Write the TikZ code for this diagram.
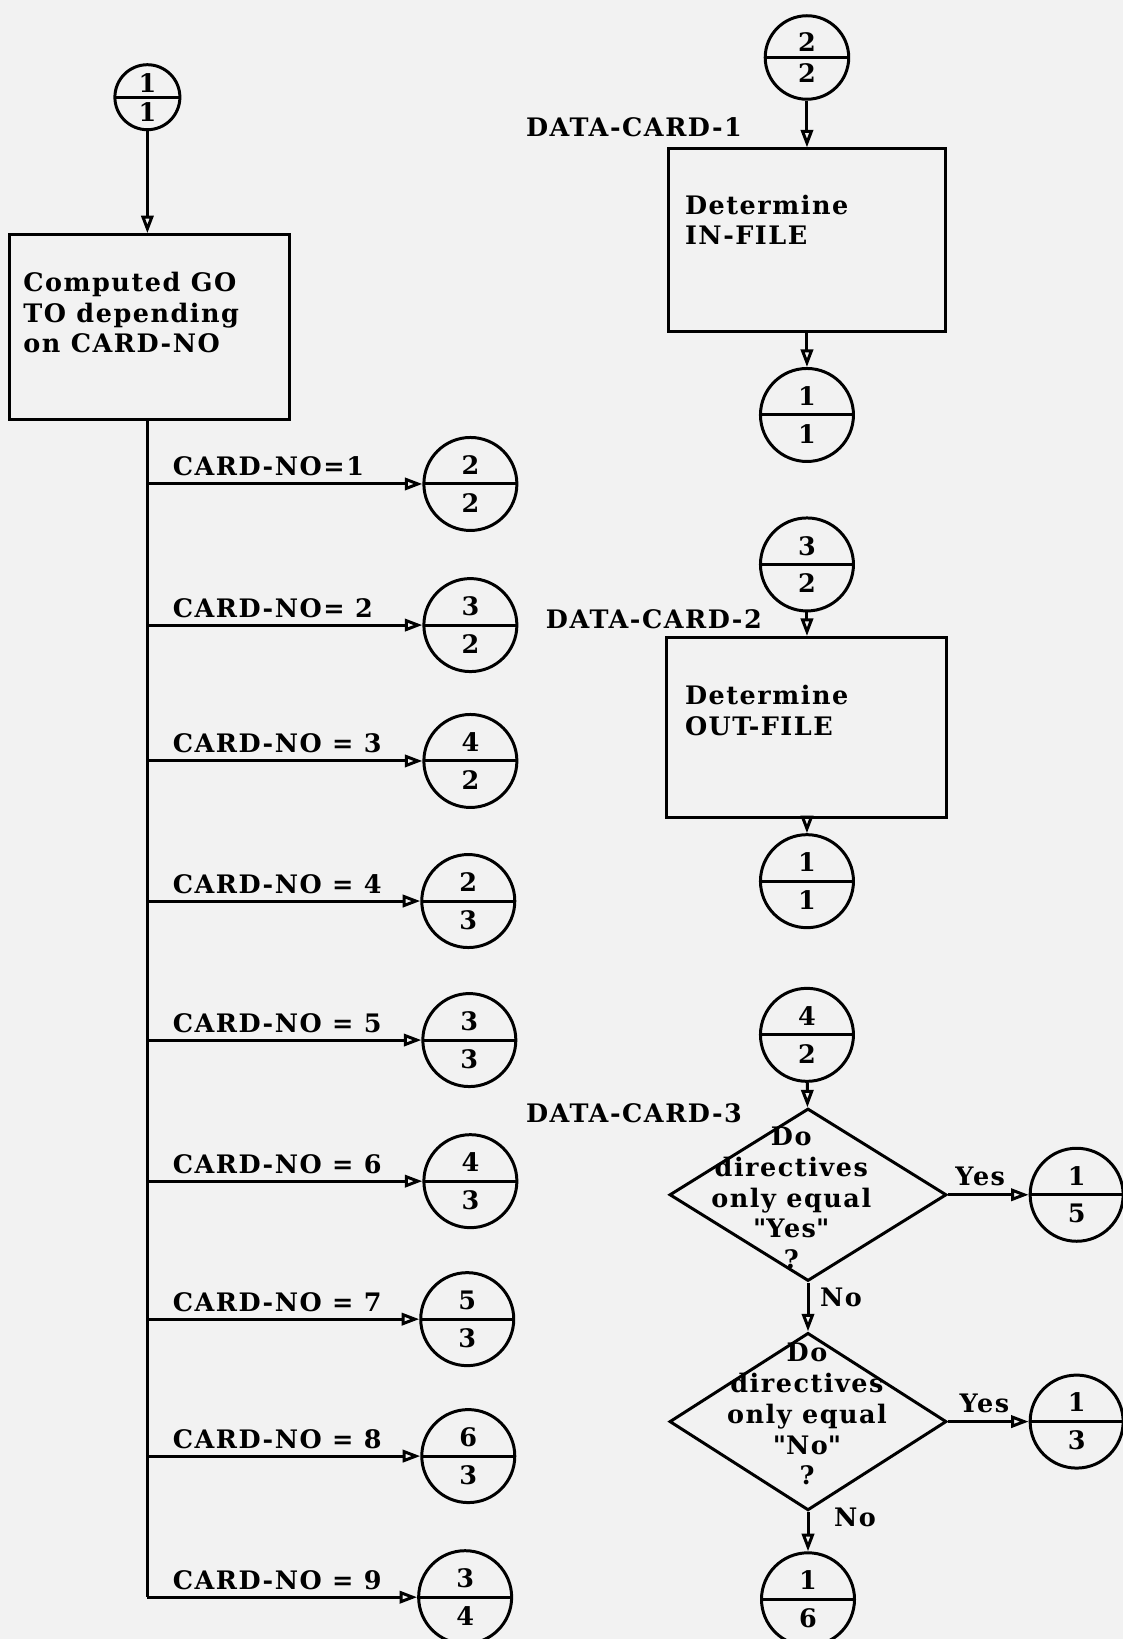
\documentclass[tikz,border=0pt]{standalone}
\usepackage{fontspec}
\setmainfont{DejaVu Serif}[UprightFont=*-Bold, LetterSpace=6]
\usetikzlibrary{arrows.meta,shapes.geometric,positioning}

\definecolor{pagegray}{RGB}{242,242,242}

\tikzset{
  flow/.style={line width=1.7pt},
  proc/.style={draw, line width=1.7pt, rectangle, inner sep=0pt},
  decide/.style={draw, line width=1.7pt, diamond, inner sep=0pt},
  conn/.style={draw, line width=1.7pt, circle, inner sep=0pt, minimum size=1.86cm, align=center,
    path picture={\draw[line width=1.7pt] (path picture bounding box.west) -- (path picture bounding box.east);}},
  txt/.style={inner sep=0pt, align=left},
}

\begin{document}
\begin{tikzpicture}[x=0.0209cm, y=-0.0209cm, >={Triangle[open,length=10pt,width=7pt]},
    every node/.style={font=\fontsize{14.5}{17.5}\selectfont}]
    % Page
    \fill[pagegray] (0,0) rectangle (1074,1568);
    \useasboundingbox (0,0) rectangle (1074,1568);

    % Left column: computed GO TO
    \node[conn, minimum size=1.3cm] (start) at (141,93) {1\\[-1pt]1};
    \node[proc, minimum width=5.6cm, minimum height=3.7cm] (goto) at (143,313) {};
    \node[txt, anchor=north west] (gototxt) at (22,260) {Computed GO\\TO depending\\on CARD-NO};
    \draw[flow, ->] (start) -- (start |- goto.north);

    % Trunk and branches
    \coordinate (trunkend) at (141,1528);
    \draw[flow] (goto.south -| trunkend) -- (trunkend);
    \foreach \i/\y/\cx/\up/\dn/\lab in {
        1/463/450/2/2/{CARD-NO=1},
        2/598/450/3/2/{CARD-NO= 2},
        3/728/450/4/2/{CARD-NO = 3},
        4/862/448/2/3/{CARD-NO = 4},
        5/995/449/3/3/{CARD-NO = 5},
        6/1130/450/4/3/{CARD-NO = 6},
        7/1262/447/5/3/{CARD-NO = 7},
        8/1393/448/6/3/{CARD-NO = 8},
        9/1528/445/3/4/{CARD-NO = 9}} {
        \coordinate (t\i) at (141,\y);
        \node[conn] (case\i) at (\cx,\y) {\up\\[4pt]\dn};
        \node[txt, anchor=south west] (lab\i) at (165,\y-7) {\lab};
        \draw[flow, ->] (t\i) -- (case\i.west);
    }

    % Right column: DATA-CARD-1
    \node[conn, minimum size=1.67cm] (in22) at (772,55) {2\\[0pt]2};
    \node[txt, anchor=west] (card1) at (503,122) {DATA-CARD-1};
    \node[proc, minimum width=5.54cm, minimum height=3.66cm] (infile) at (772,230) {};
    \node[txt, anchor=north west] (infiletxt) at (655,186) {Determine\\IN-FILE};
    \draw[flow, ->] (in22) -- (infile);
    \node[conn] (out11a) at (772,397) {1\\[4pt]1};
    \draw[flow, ->] (infile) -- (out11a);

    % DATA-CARD-2
    \node[conn] (in32) at (772,540) {3\\[4pt]2};
    \node[txt, anchor=west] (card2) at (522,592) {DATA-CARD-2};
    \node[proc, minimum width=5.6cm, minimum height=3.6cm] (outfile) at (772,696) {};
    \node[txt, anchor=north west] (outfiletxt) at (655,655) {Determine\\OUT-FILE};
    \draw[flow, ->] (in32) -- (outfile);
    \node[conn] (out11b) at (772,843) {1\\[4pt]1};
    \draw[flow, ->] (outfile) -- (out11b);

    % DATA-CARD-3
    \node[conn] (in42) at (772,990) {4\\[4pt]2};
    \node[txt, anchor=west] (card3) at (503,1065) {DATA-CARD-3};
    \node[decide, minimum width=5.54cm, minimum height=3.45cm] (yesq) at (773,1143) {};
    \node[txt, align=center] (yesqtxt) at (757,1146) {Do\\directives\\only equal\\\textquotedbl Yes\textquotedbl\\?};
    \draw[flow, ->] (in42) -- (yesq);
    \node[conn] (out15) at (1030,1143) {1\\[4pt]5};
    \draw[flow, ->] (yesq) -- node[txt, above=4pt, pos=0.4] (yes1) {Yes} (out15);

    \node[decide, minimum width=5.54cm, minimum height=3.55cm] (noq) at (773,1360) {};
    \node[txt, align=center] (noqtxt) at (772,1353) {Do\\directives\\only equal\\\textquotedbl No\textquotedbl\\?};
    \draw[flow, ->] (yesq) -- node[txt, right=6pt, pos=0.3] (no1) {No} (noq);
    \node[conn] (out13) at (1030,1360) {1\\[4pt]3};
    \draw[flow, ->] (noq) -- node[txt, above=4pt, pos=0.45] (yes2) {Yes} (out13);
    \node[conn] (out16) at (773,1530) {1\\[4pt]6};
    \draw[flow, ->] (noq) -- node[txt, right=14pt, pos=0.15] (no2) {No} (out16);
\end{tikzpicture}
\end{document}
